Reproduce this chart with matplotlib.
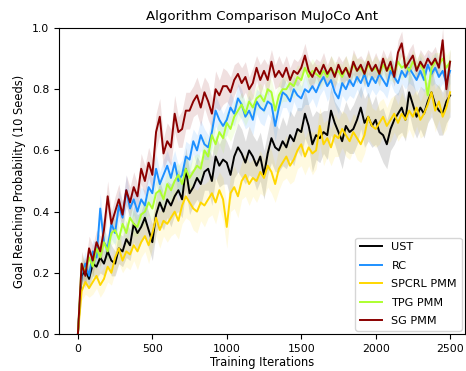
import numpy as np
from matplotlib import pyplot as plt

# training iterations (one value every 25 iterations)
iterations = list(range(0, 2501, 25))

# mean goal reaching probability, rows of 10 points
ust = [0.00, 0.19, 0.21, 0.18, 0.23, 0.22, 0.25, 0.23, 0.27, 0.24,
       0.23, 0.28, 0.27, 0.31, 0.29, 0.36, 0.33, 0.35, 0.38, 0.34,
       0.30, 0.39, 0.43, 0.40, 0.44, 0.42, 0.45, 0.47, 0.44, 0.54,
       0.46, 0.48, 0.51, 0.49, 0.53, 0.54, 0.50, 0.58, 0.55, 0.57,
       0.56, 0.52, 0.58, 0.61, 0.59, 0.56, 0.60, 0.58, 0.55, 0.58,
       0.52, 0.59, 0.64, 0.61, 0.60, 0.63, 0.61, 0.65, 0.63, 0.67,
       0.66, 0.72, 0.68, 0.62, 0.65, 0.64, 0.66, 0.65, 0.73, 0.69,
       0.66, 0.63, 0.68, 0.66, 0.67, 0.70, 0.74, 0.69, 0.71, 0.68,
       0.70, 0.66, 0.65, 0.62, 0.67, 0.70, 0.72, 0.74, 0.70, 0.79,
       0.75, 0.71, 0.74, 0.72, 0.76, 0.79, 0.75, 0.73, 0.72, 0.76,
       0.78]
rc = [0.00, 0.20, 0.23, 0.19, 0.27, 0.25, 0.41, 0.30, 0.28, 0.36,
      0.33, 0.42, 0.38, 0.47, 0.41, 0.44, 0.40, 0.44, 0.42, 0.48,
      0.46, 0.54, 0.49, 0.52, 0.55, 0.51, 0.56, 0.50, 0.52, 0.58,
      0.57, 0.63, 0.60, 0.65, 0.62, 0.61, 0.66, 0.73, 0.70, 0.68,
      0.70, 0.74, 0.72, 0.77, 0.75, 0.71, 0.73, 0.70, 0.76, 0.74,
      0.73, 0.76, 0.75, 0.68, 0.74, 0.79, 0.78, 0.76, 0.80, 0.78,
      0.77, 0.80, 0.79, 0.81, 0.79, 0.82, 0.84, 0.81, 0.83, 0.79,
      0.77, 0.82, 0.80, 0.83, 0.81, 0.84, 0.82, 0.85, 0.81, 0.84,
      0.82, 0.85, 0.83, 0.81, 0.86, 0.84, 0.82, 0.86, 0.84, 0.87,
      0.85, 0.83, 0.86, 0.83, 0.88, 0.85, 0.87, 0.84, 0.86, 0.82,
      0.86]
spcrl = [0.00, 0.14, 0.17, 0.15, 0.17, 0.19, 0.16, 0.18, 0.22, 0.20,
         0.25, 0.28, 0.24, 0.27, 0.26, 0.29, 0.27, 0.30, 0.32, 0.29,
         0.33, 0.38, 0.34, 0.37, 0.36, 0.38, 0.40, 0.37, 0.42, 0.45,
         0.43, 0.41, 0.40, 0.43, 0.42, 0.44, 0.46, 0.43, 0.47, 0.44,
         0.35, 0.46, 0.48, 0.45, 0.50, 0.52, 0.49, 0.51, 0.50, 0.53,
         0.51, 0.55, 0.53, 0.49, 0.54, 0.56, 0.58, 0.55, 0.57, 0.60,
         0.62, 0.58, 0.61, 0.59, 0.60, 0.68, 0.62, 0.64, 0.61, 0.65,
         0.64, 0.67, 0.65, 0.63, 0.66, 0.64, 0.62, 0.65, 0.71, 0.68,
         0.67, 0.69, 0.71, 0.68, 0.70, 0.72, 0.69, 0.72, 0.70, 0.73,
         0.71, 0.74, 0.70, 0.72, 0.75, 0.79, 0.73, 0.76, 0.71, 0.74,
         0.79]
tpg = [0.00, 0.23, 0.20, 0.25, 0.22, 0.28, 0.25, 0.30, 0.27, 0.33,
       0.34, 0.31, 0.36, 0.33, 0.38, 0.36, 0.35, 0.39, 0.40, 0.43,
       0.41, 0.46, 0.47, 0.44, 0.49, 0.47, 0.50, 0.52, 0.49, 0.54,
       0.51, 0.53, 0.55, 0.54, 0.60, 0.58, 0.65, 0.62, 0.66, 0.64,
       0.69, 0.67, 0.71, 0.73, 0.75, 0.72, 0.76, 0.74, 0.77, 0.78,
       0.76, 0.80, 0.79, 0.73, 0.78, 0.80, 0.80, 0.82, 0.81, 0.84,
       0.83, 0.87, 0.84, 0.86, 0.85, 0.84, 0.86, 0.84, 0.87, 0.85,
       0.86, 0.84, 0.87, 0.85, 0.88, 0.86, 0.87, 0.85, 0.88, 0.86,
       0.87, 0.85, 0.88, 0.86, 0.87, 0.85, 0.89, 0.87, 0.88, 0.86,
       0.89, 0.87, 0.88, 0.86, 0.78, 0.87, 0.89, 0.88, 0.90, 0.87,
       0.89]
sg = [0.00, 0.23, 0.19, 0.28, 0.24, 0.30, 0.27, 0.34, 0.45, 0.36,
      0.40, 0.44, 0.39, 0.47, 0.43, 0.48, 0.45, 0.54, 0.50, 0.56,
      0.52, 0.66, 0.71, 0.59, 0.63, 0.61, 0.72, 0.66, 0.67, 0.73,
      0.73, 0.76, 0.78, 0.74, 0.79, 0.76, 0.72, 0.80, 0.78, 0.81,
      0.81, 0.79, 0.83, 0.85, 0.82, 0.84, 0.80, 0.82, 0.87, 0.83,
      0.86, 0.83, 0.89, 0.84, 0.86, 0.84, 0.87, 0.83, 0.86, 0.85,
      0.87, 0.91, 0.86, 0.84, 0.87, 0.85, 0.88, 0.85, 0.87, 0.84,
      0.88, 0.85, 0.87, 0.84, 0.89, 0.86, 0.88, 0.85, 0.89, 0.86,
      0.88, 0.85, 0.90, 0.86, 0.89, 0.84, 0.92, 0.95, 0.87, 0.89,
      0.91, 0.86, 0.89, 0.87, 0.90, 0.88, 0.90, 0.87, 0.96, 0.80,
      0.89]

# spread over the 10 seeds (in hundredths), same layout as above
ust_std = [0, 3, 4, 3, 4, 4, 5, 4, 5, 5,
           4, 5, 5, 6, 5, 6, 6, 5, 6, 6,
           6, 6, 7, 6, 6, 7, 6, 7, 6, 7,
           7, 6, 7, 7, 6, 7, 8, 7, 7, 8,
           7, 8, 7, 8, 8, 7, 8, 7, 8, 8,
           8, 7, 8, 8, 7, 8, 7, 8, 8, 7,
           8, 8, 7, 9, 8, 8, 7, 8, 8, 7,
           8, 9, 8, 7, 8, 8, 7, 8, 8, 7,
           8, 7, 9, 8, 7, 8, 7, 8, 7, 7,
           8, 7, 7, 8, 7, 8, 7, 8, 7, 7,
           7]
rc_std = [0, 3, 4, 3, 4, 4, 5, 4, 4, 5,
          4, 5, 5, 5, 4, 5, 5, 4, 5, 5,
          5, 5, 4, 5, 5, 5, 4, 5, 5, 5,
          5, 4, 5, 5, 5, 4, 5, 5, 5, 4,
          5, 5, 4, 5, 5, 4, 5, 5, 4, 5,
          5, 4, 5, 5, 4, 5, 4, 5, 4, 5,
          4, 5, 4, 4, 5, 4, 4, 5, 4, 4,
          5, 4, 4, 5, 4, 4, 5, 4, 4, 4,
          4, 5, 4, 4, 4, 5, 4, 4, 4, 5,
          4, 4, 5, 4, 4, 4, 5, 4, 4, 4,
          4]
spcrl_std = [0, 3, 4, 3, 4, 4, 4, 4, 5, 4,
             5, 5, 4, 5, 5, 5, 6, 5, 5, 6,
             5, 6, 6, 5, 6, 6, 7, 6, 6, 7,
             6, 7, 7, 6, 7, 6, 7, 7, 6, 7,
             7, 6, 7, 7, 6, 7, 7, 6, 7, 7,
             6, 7, 7, 6, 7, 6, 7, 6, 7, 6,
             7, 6, 6, 7, 6, 6, 7, 6, 6, 7,
             6, 6, 7, 6, 6, 7, 6, 6, 7, 6,
             6, 7, 6, 6, 7, 6, 6, 7, 6, 6,
             7, 6, 6, 7, 6, 6, 7, 6, 6, 7,
             6]
tpg_std = [0, 3, 3, 3, 4, 3, 4, 4, 3, 4,
           4, 4, 3, 4, 4, 4, 3, 4, 4, 4,
           4, 4, 4, 5, 4, 4, 5, 4, 4, 5,
           4, 5, 4, 4, 5, 4, 5, 4, 4, 5,
           4, 4, 5, 4, 4, 4, 5, 4, 4, 4,
           4, 4, 4, 5, 4, 4, 4, 4, 4, 4,
           4, 3, 4, 4, 3, 4, 4, 3, 4, 4,
           3, 4, 4, 3, 4, 4, 3, 4, 4, 3,
           4, 4, 3, 4, 4, 3, 4, 4, 3, 4,
           4, 3, 4, 4, 5, 4, 3, 4, 4, 4,
           4]
sg_std = [0, 4, 4, 4, 5, 4, 5, 5, 5, 4,
          5, 5, 4, 5, 5, 5, 4, 5, 5, 5,
          5, 6, 6, 5, 6, 6, 6, 5, 6, 6,
          6, 5, 6, 6, 5, 6, 5, 6, 5, 6,
          5, 5, 5, 4, 5, 5, 4, 5, 4, 5,
          4, 5, 4, 4, 5, 4, 4, 4, 4, 4,
          4, 4, 4, 4, 3, 4, 4, 3, 4, 4,
          3, 4, 4, 3, 4, 4, 3, 4, 4, 3,
          4, 4, 3, 4, 4, 3, 4, 4, 3, 4,
          4, 3, 4, 4, 3, 4, 4, 3, 4, 5,
          4]

labels = ['UST', 'RC', 'SPCRL PMM', 'TPG PMM', 'SG PMM']
colors = ['black', 'dodgerblue', 'gold', 'greenyellow', 'darkred']
means = [ust, rc, spcrl, tpg, sg]
stds = [ust_std, rc_std, spcrl_std, tpg_std, sg_std]

fig = plt.figure(dpi=100, figsize=(4.66, 3.71))
ax = fig.add_axes([0.1266, 0.0997, 0.8712, 0.8248])

x = np.array(iterations)
for mean, std, label, color in zip(means, stds, labels, colors):
   m = np.array(mean)
   s = np.array(std) / 100.0
   ax.fill_between(x, m - s, m + s, color=color, alpha=0.12, linewidth=0)
   ax.plot(x, m, color=color, linewidth=1.4, label=label)

ax.set_title('Algorithm Comparison MuJoCo Ant', fontsize=9.6)
ax.set_xlabel('Training Iterations', fontsize=8.3, labelpad=1.5)
ax.set_ylabel('Goal Reaching Probability (10 Seeds)', fontsize=8.3)
ax.set_xlim(-127, 2600)
ax.set_ylim(0, 1.0)
ax.set_xticks([0, 500, 1000, 1500, 2000, 2500])
ax.set_yticks([0.0, 0.2, 0.4, 0.6, 0.8, 1.0])
ax.tick_params(axis='both', which='major', labelsize=7.8)
ax.legend(loc='lower right', fontsize=8.1, labelspacing=0.75, borderaxespad=0.3)

fig.savefig('out.png')
